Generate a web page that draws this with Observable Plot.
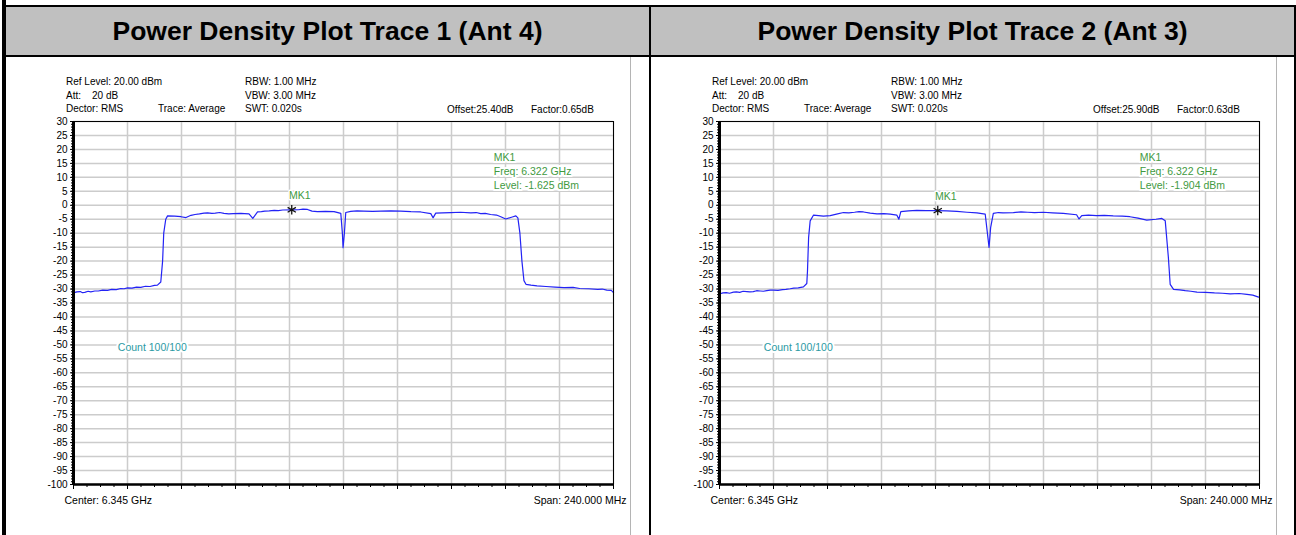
<!DOCTYPE html>
<html>
<head>
<meta charset="utf-8">
<script src="https://cdn.jsdelivr.net/npm/d3@7"></script>
<script src="https://cdn.jsdelivr.net/npm/@observablehq/plot@0.6"></script>
<style>
  html, body { margin: 0; padding: 0; background: #fff; }
  #page { position: relative; width: 1296px; height: 535px; overflow: hidden; font-family: "Liberation Sans", Arial, sans-serif; }
  .blk { position: absolute; background: #000; }
  .hdr { position: absolute; top: 7px; height: 48px; background: #c0c0c0; display: flex; align-items: center; justify-content: center; font-weight: bold; font-size: 26.5px; color: #000; }
  .gl { position: absolute; background: #b4b4b4; width: 1px; top: 57px; height: 478px; }
  .info { position: absolute; font-size: 10px; color: #000; white-space: nowrap; line-height: 1; }
  .panel { position: absolute; top: 57px; }
</style>
</head>
<body>
<div id="page"></div>
<script>
// ---- data ----
const titles = ["Power Density Plot Trace 1 (Ant 4)", "Power Density Plot Trace 2 (Ant 3)"];
const offsets = ["Offset:25.40dB", "Offset:25.90dB"];
const factors = ["Factor:0.65dB", "Factor:0.63dB"];
const markerFreq = [6.322, 6.322];
const markerLevel = [-1.625, -1.904];

const trace1Freq = [6.2253,6.2265,6.2280,6.2290,6.2300,6.2315,6.2327,6.2345,6.2360,6.2380,6.2401,6.2420,6.2440,6.2460,6.2475,6.2490,6.2510,6.2530,6.2549,6.2570,6.2590,6.2610,6.2623,6.2638,6.2646,6.2651,6.2660,6.2668,6.2700,6.2728,6.2750,6.2772,6.2790,6.2810,6.2830,6.2846,6.2865,6.2880,6.2900,6.2919,6.2940,6.2960,6.2994,6.3010,6.3030,6.3047,6.3068,6.3085,6.3100,6.3120,6.3142,6.3160,6.3180,6.3219,6.3250,6.3270,6.3290,6.3310,6.3334,6.3370,6.3408,6.3438,6.3445,6.3448,6.3454,6.3460,6.3482,6.3510,6.3540,6.3580,6.3616,6.3660,6.3704,6.3750,6.3793,6.3838,6.3848,6.3860,6.3890,6.3927,6.3970,6.4016,6.4040,6.4060,6.4080,6.4104,6.4130,6.4149,6.4171,6.4200,6.4216,6.4225,6.4234,6.4243,6.4252,6.4261,6.4283,6.4310,6.4350,6.4390,6.4430,6.4470,6.4500,6.4540,6.4580,6.4600,6.4620,6.4640,6.4650];
const trace1Level = [-31.3,-31.0,-30.9,-31.3,-31.2,-30.8,-31.0,-30.7,-30.7,-30.4,-30.5,-30.1,-30.2,-29.8,-29.9,-29.6,-29.7,-29.3,-29.4,-29.0,-29.1,-28.7,-28.6,-27.5,-20,-10,-5,-3.8,-3.9,-4.1,-4.4,-3.6,-3.3,-3.1,-2.8,-2.7,-2.9,-2.8,-2.6,-2.9,-3.1,-3.0,-2.9,-3.0,-3.1,-4.7,-2.4,-2.3,-2.1,-2.0,-1.8,-1.9,-1.7,-1.625,-1.6,-1.4,-1.5,-2.1,-2.3,-2.2,-2.3,-2.9,-10,-15.2,-10,-2.6,-2.2,-2.0,-2.1,-2.2,-2.1,-2.0,-2.1,-2.3,-2.4,-3.0,-4.5,-2.8,-2.7,-2.6,-2.5,-2.7,-2.6,-3.0,-2.9,-3.3,-3.5,-4.1,-4.9,-4.2,-3.8,-4.5,-10,-20,-27,-28.3,-28.6,-28.9,-29.1,-29.3,-29.5,-29.4,-29.8,-29.9,-30.1,-30.0,-30.4,-30.5,-31.3];

const trace2Freq = [6.2253,6.2265,6.2280,6.2295,6.2312,6.2325,6.2340,6.2355,6.2372,6.2385,6.2400,6.2415,6.2431,6.2445,6.2460,6.2475,6.2490,6.2510,6.2530,6.2545,6.2564,6.2580,6.2600,6.2623,6.2638,6.2641,6.2646,6.2653,6.2668,6.2690,6.2712,6.2742,6.2770,6.2801,6.2825,6.2850,6.2870,6.2890,6.2920,6.2950,6.2980,6.3009,6.3038,6.3047,6.3056,6.3090,6.3127,6.3170,6.3212,6.3260,6.3305,6.3350,6.3394,6.3431,6.3443,6.3448,6.3455,6.3467,6.3490,6.3510,6.3556,6.3590,6.3620,6.3650,6.3689,6.3730,6.3778,6.3837,6.3848,6.3860,6.3890,6.3926,6.3960,6.4000,6.4040,6.4074,6.4110,6.4149,6.4190,6.4216,6.4231,6.4245,6.4253,6.4268,6.4295,6.4320,6.4345,6.4372,6.4410,6.4450,6.4485,6.4520,6.4560,6.4594,6.4620,6.4646];
const trace2Level = [-31.7,-31.4,-31.3,-31.5,-31.1,-31.0,-31.2,-30.8,-30.9,-31.0,-30.9,-30.6,-30.7,-30.8,-30.6,-30.4,-30.4,-30.5,-30.2,-30.1,-29.9,-29.7,-29.6,-29.2,-28.0,-23.6,-11.6,-5.6,-3.5,-3.7,-3.9,-3.7,-3.2,-2.6,-2.7,-2.5,-2.3,-2.4,-2.8,-3.1,-3.0,-3.2,-3.5,-5.0,-2.3,-2.0,-1.8,-1.9,-1.904,-2.0,-2.2,-2.5,-2.75,-3.2,-11.6,-15.1,-8,-2.9,-2.6,-2.7,-2.6,-2.4,-2.5,-2.6,-2.5,-2.7,-2.9,-3.4,-4.9,-3.7,-3.5,-3.7,-3.6,-3.8,-3.9,-4.1,-4.6,-5.3,-5.0,-4.7,-5.5,-18.7,-28.3,-30.1,-30.3,-30.6,-30.8,-31.1,-31.2,-31.4,-31.5,-31.7,-31.6,-31.9,-32.2,-32.9];

const yTicks = d3.range(-100, 31, 5);
const yMinor = d3.range(-100, 31, 1);
const xGrid = d3.range(0, 11).map(i => 6.225 + i * 0.024);
const xMinor = d3.range(0, 41).map(i => 6.225 + i * 0.006);
const centerLabel = "Center: 6.345 GHz";
const spanLabel = "Span: 240.000 MHz";
const countLabel = "Count 100/100";

const traces = [
  trace1Freq.map((f, i) => ({f, dB: trace1Level[i]})),
  trace2Freq.map((f, i) => ({f, dB: trace2Level[i]}))
];

// ---- layout ----
const page = document.getElementById("page");
function add(cls, style, text) {
  const d = document.createElement("div");
  d.className = cls;
  Object.assign(d.style, style);
  if (text != null) d.textContent = text;
  page.appendChild(d);
  return d;
}

add("blk", {left: "2px", top: "0px", width: "4px", height: "535px"});
add("blk", {left: "2px", top: "5px", width: "1294px", height: "2px"});
add("blk", {left: "2px", top: "55px", width: "1294px", height: "2px"});
add("blk", {left: "649px", top: "5px", width: "2px", height: "530px"});
add("blk", {left: "1294px", top: "5px", width: "2px", height: "530px"});

const panelLeft = [6, 652];
const hdrLeft = [6, 651];
const shift = [0, 646];

titles.forEach((t, k) => {
  add("hdr", {left: hdrLeft[k] + "px", width: "643px"}, t);
  add("gl", {left: (630 + shift[k]) + "px"});
  const s = shift[k];
  add("info", {left: (66 + s) + "px", top: "77px"}, "Ref Level: 20.00 dBm");
  add("info", {left: (66 + s) + "px", top: "91px"}, "Att:");
  add("info", {left: (92 + s) + "px", top: "91px"}, "20 dB");
  add("info", {left: (66 + s) + "px", top: "104px"}, "Dector: RMS");
  add("info", {left: (158 + s) + "px", top: "104px"}, "Trace: Average");
  add("info", {left: (245 + s) + "px", top: "77px"}, "RBW: 1.00 MHz");
  add("info", {left: (245 + s) + "px", top: "91px"}, "VBW: 3.00 MHz");
  add("info", {left: (245 + s) + "px", top: "104px"}, "SWT: 0.020s");
  add("info", {left: (447 + s) + "px", top: "105px"}, offsets[k]);
  add("info", {left: (531 + s) + "px", top: "105px"}, factors[k]);

  const mk = [{f: markerFreq[k], dB: markerLevel[k]}];
  const boxText = ["MK1", "Freq: " + markerFreq[k].toFixed(3) + " GHz", "Level: " + markerLevel[k].toFixed(3) + " dBm"];
  const green = "#3f9a3f";

  const chart = Plot.plot({
    width: 643,
    height: 478,
    marginLeft: 67,
    marginRight: 36,
    marginTop: 64,
    marginBottom: 51,
    style: {fontFamily: "'Liberation Sans', Arial, sans-serif", fontSize: "10px", background: "transparent", overflow: "visible"},
    x: {domain: [6.225, 6.465], axis: null},
    y: {domain: [-100, 30], axis: null},
    marks: [
      Plot.ruleY(yTicks, {stroke: "#cccccc", strokeWidth: 1.5}),
      Plot.ruleX(xGrid, {stroke: "#cccccc", strokeWidth: 1.5}),
      Plot.text([countLabel], {x: () => 6.2447, y: () => -51, text: d => d, textAnchor: "start", fill: "#2b9aa3", stroke: "white", strokeWidth: 4, fontSize: 10.5}),
      Plot.text(boxText, {x: () => 6.4118, y: (d, i) => 17 - i * 5.02, text: d => d, textAnchor: "start", fill: green, stroke: "white", strokeWidth: 4, fontSize: 10.5}),
      Plot.text(mk, {x: "f", y: "dB", text: () => "MK1", dy: -14, dx: 8, fill: green, stroke: "white", strokeWidth: 3, fontSize: 10.5}),
      Plot.line(traces[k], {x: "f", y: "dB", stroke: "#2323f5", strokeWidth: 1.2, curve: "linear"}),
      Plot.dot(mk, {x: "f", y: "dB", symbol: "asterisk", r: 4.5, stroke: "#111", strokeWidth: 1.3}),
      Plot.frame({stroke: "#000", strokeWidth: 1}),
      Plot.ruleX([6.225], {stroke: "#000", strokeWidth: 3}),
      Plot.ruleY([-100], {stroke: "#000", strokeWidth: 2.5}),
      Plot.axisY({ticks: yMinor, tickSize: 2, text: null, label: null, stroke: "#000"}),
      Plot.axisY({ticks: yTicks, tickSize: 3, tickPadding: 3, label: null, tickFormat: d => String(d), fill: "#000", fontSize: 10}),
      Plot.axisX({ticks: xMinor, tickSize: 3, text: null, label: null, stroke: "#000"}),
      Plot.axisX({ticks: xGrid, tickSize: 5, text: null, label: null, stroke: "#000"}),
      Plot.text([centerLabel], {x: () => 6.225, y: () => -100, text: d => d, dy: 16, dx: -9, textAnchor: "start", fill: "#000", fontSize: 10.5}),
      Plot.text([spanLabel], {x: () => 6.465, y: () => -100, text: d => d, dy: 16, dx: 13, textAnchor: "end", fill: "#000", fontSize: 10.5})
    ]
  });
  chart.classList.add("panel");
  chart.style.position = "absolute";
  chart.style.left = panelLeft[k] + "px";
  chart.style.top = "57px";
  page.appendChild(chart);
});
</script>
</body>
</html>
